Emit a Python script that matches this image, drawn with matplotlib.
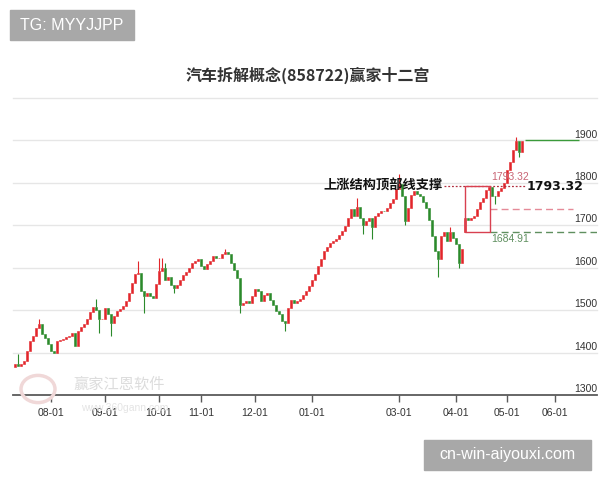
import matplotlib
matplotlib.use("Agg")
import matplotlib.pyplot as plt
from matplotlib.patches import Rectangle, Circle
import numpy as np

plt.rcParams['font.family'] = ['Liberation Sans', 'Noto Sans CJK SC', 'DejaVu Sans']

title = "汽车拆解概念(858722)赢家十二宫"

# daily closes, one candle per trading day
closes = [1372, 1368, 1374, 1380, 1404, 1427, 1440, 1458, 1468, 1444,
          1435, 1420, 1404, 1400, 1427, 1430, 1433, 1437, 1440, 1446,
          1415, 1451, 1460, 1468, 1480, 1495, 1508, 1500, 1478, 1480,
          1506, 1490, 1470, 1487, 1498, 1503, 1510, 1522, 1540, 1565,
          1585, 1588, 1546, 1534, 1540, 1533, 1529, 1562, 1592, 1600,
          1572, 1578, 1560, 1552, 1560, 1572, 1584, 1590, 1600, 1612,
          1616, 1620, 1605, 1598, 1609, 1617, 1628, 1624, 1624, 1632,
          1636, 1633, 1612, 1595, 1575, 1512, 1518, 1522, 1517, 1534,
          1550, 1546, 1522, 1536, 1540, 1525, 1512, 1498, 1491, 1475,
          1470, 1505, 1525, 1518, 1522, 1527, 1536, 1545, 1558, 1570,
          1585, 1605, 1620, 1640, 1650, 1659, 1664, 1668, 1676, 1686,
          1698, 1718, 1739, 1723, 1742, 1718, 1700, 1711, 1716, 1695,
          1723, 1728, 1734, 1733, 1740, 1752, 1762, 1785, 1798, 1770,
          1711, 1740, 1772, 1780, 1774, 1770, 1755, 1740, 1712, 1675,
          1640, 1620, 1675, 1683, 1664, 1683, 1671, 1657, 1610, 1645,
          1718, 1712, 1718, 1723, 1739, 1754, 1765, 1782, 1790, 1770,
          1768, 1780, 1788, 1800, 1830, 1850, 1878, 1898, 1872, 1898]
first_open = 1366
gap_opens = {150: 1684.91}
highs = {1: 1397, 8: 1480, 27: 1527, 41: 1617, 48: 1624, 49: 1624, 50: 1610,
         70: 1645, 114: 1765, 128: 1820, 145: 1695, 167: 1908}
lows = {28: 1445, 32: 1440, 43: 1494, 53: 1540, 75: 1494, 90: 1451,
        116: 1680, 119: 1668, 130: 1700, 141: 1577, 148: 1600, 160: 1750, 168: 1860}

month_pos = [12, 30, 48, 62, 80, 99, 128, 147, 164, 180]
month_labels = ["08-01", "09-01", "10-01", "11-01", "12-01", "01-01",
                "03-01", "04-01", "05-01", "06-01"]
yticks = [1300, 1400, 1500, 1600, 1700, 1800, 1900]

top_line = 1793.32
bottom_line = 1684.91
mid_line = 1739.1
box_start, box_end = 150, 158.4

closes = np.array(closes, dtype=float)
opens = np.r_[first_open, closes[:-1]]
for k, v in gap_opens.items():
    opens[k] = v
x = np.arange(len(closes))
up = closes >= opens
colors = np.where(up, '#e2262b', '#2b8a2b')

fig = plt.figure(figsize=(6, 4.8), dpi=100)
ax = fig.add_axes([13 / 600, 85 / 480, 584 / 600, 297 / 480])
ax.set_xlim(-0.67, 194)
ax.set_ylim(1300, 2000)

for v in range(1400, 2001, 100):
    ax.axhline(v, color='#e6e6e6', lw=1, zorder=0, clip_on=False)

for s in ['top', 'left', 'right']:
    ax.spines[s].set_visible(False)
ax.spines['bottom'].set_color('#5a5a5a')
ax.spines['bottom'].set_linewidth(1.3)
ax.set_yticks([])
ax.set_xticks(month_pos)
ax.set_xticklabels(month_labels, fontsize=7.5, color='#333333')
ax.tick_params(axis='x', length=5, width=1, color='#5a5a5a', pad=4)

for v in yticks:
    ax.text(1.0, v + 2, str(v), transform=ax.get_yaxis_transform(),
            ha='right', va='bottom', fontsize=7.5, color='#333333')

# candles
body_lo = np.minimum(opens, closes)
body_hi = np.maximum(opens, closes)
for k, hi in highs.items():
    ax.vlines(k, body_hi[k], hi, color=colors[k], lw=0.8, zorder=2)
for k, lo in lows.items():
    ax.vlines(k, lo, body_lo[k], color=colors[k], lw=0.8, zorder=2)
ax.bar(x, body_hi - body_lo, bottom=body_lo, width=0.7, color=colors,
       edgecolor=colors, linewidth=0.4, zorder=3)

# annotations
ax.hlines(1900, 170, 188, color='#3a9a3a', lw=1, zorder=2)
ax.hlines(top_line, 143, 170, color='#b03040', lw=0.9, linestyles=(0, (1.5, 1.5)), zorder=4)
ax.add_patch(Rectangle((box_start, bottom_line), box_end - box_start, top_line - bottom_line,
                       fill=False, edgecolor='#d84050', lw=1, zorder=4))
ax.hlines(mid_line, box_end, 186, color='#e58a98', lw=1, linestyles=(0, (5, 3)), zorder=2)
ax.hlines(bottom_line, box_end, 194, color='#5f8f5f', lw=1, linestyles=(0, (5, 3)), zorder=2)
ax.text(box_end + 0.5, top_line + 9, f"{top_line:.2f}", fontsize=7.5, color='#c86474',
        ha='left', va='bottom')
ax.text(box_end + 0.5, bottom_line - 5, f"{bottom_line:.2f}", fontsize=7.5, color='#5f8f5f',
        ha='left', va='top')
ax.text(170.5, top_line - 2, f"{top_line:.2f}", fontsize=9, fontweight='bold', color='#111111',
        ha='left', va='center', family=['DejaVu Sans'])
ax.text(142.7, top_line, "上涨结构顶部线支撑", fontsize=9.5, fontweight='bold', color='#111111',
        ha='right', va='center', family=['Noto Sans CJK SC', 'DejaVu Sans'])

# title
fig.text(308 / 600, 1 - 75 / 480, title, ha='center', va='center', fontsize=11.5,
         fontweight='bold', color='#333333', family=['Noto Sans CJK SC', 'DejaVu Sans'])

# faint watermark
fig.patches.append(Circle((38 / 600, 1 - 389 / 480), 17 / 600, transform=fig.transFigure,
                          fill=False, edgecolor='#f0d8d8', lw=2.5, zorder=0))
fig.text(119 / 600, 1 - 384 / 480, "赢家江恩软件", ha='center', va='center', fontsize=11,
         color='#dcdcdc', family=['Noto Sans CJK SC'], zorder=0)
fig.text(125 / 600, 1 - 408 / 480, "www.360gann.com", ha='center', va='center', fontsize=7.5,
         color='#e4e4e4', zorder=0)

# corner labels
fig.patches.append(Rectangle((10 / 600, 1 - 40 / 480), 124 / 600, 30 / 480,
                             transform=fig.transFigure, color='#a8a8a8', zorder=5))
fig.text(72 / 600, 1 - 25 / 480, "TG: MYYJJPP", ha='center', va='center', fontsize=11.5,
         color='white', zorder=6)
fig.patches.append(Rectangle((424 / 600, 1 - 470 / 480), 167 / 600, 30 / 480,
                             transform=fig.transFigure, color='#a8a8a8', zorder=5))
fig.text(507 / 600, 1 - 455 / 480, "cn-win-aiyouxi.com", ha='center', va='center', fontsize=11.5,
         color='white', zorder=6)

fig.savefig("out.png", dpi=100)
